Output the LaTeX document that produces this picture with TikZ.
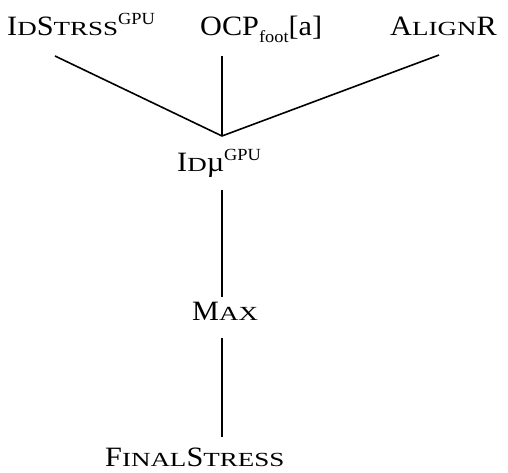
\documentclass[tikz,border=0pt]{standalone}
\usepackage{fontspec}
\setmainfont{Liberation Serif}[FakeStretch=1.08]
\newfontfamily\scfam{Liberation Serif}[FakeStretch=1.35]
\newcommand{\smc}[1]{{\scfam\fontsize{20}{22}\selectfont #1}}
\newcommand{\supx}[1]{\raisebox{11pt}{\fontsize{17}{19}\selectfont #1}}
\newcommand{\subx}[1]{\raisebox{-7pt}{\fontsize{17}{19}\selectfont #1}}
\begin{document}
\begin{tikzpicture}[x=1pt,y=-1pt,
  lbl/.style={inner sep=0pt, anchor=base west, font=\fontsize{28}{32}\selectfont},
  edge/.style={line width=1.6pt}]
\useasboundingbox (0,0) rectangle (508,472);
\node[lbl] (ids) at (7,35) {I\smc{D}S\smc{TRSS}\supx{GPU}};
\node[lbl] (ocp) at (200,35) {OCP\subx{foot}[a]};
\node[lbl] (aln) at (390,35) {A\smc{LIGN}R};
\node[lbl] (idm) at (177,171) {I\smc{D}µ\supx{GPU}};
\node[lbl] (max) at (192,320) {M\smc{AX}};
\node[lbl] (fin) at (105,466) {F\smc{INAL}S\smc{TRESS}};
\coordinate (hub) at (222,136);
\coordinate (t1) at (55,56);
\coordinate (t2) at (222,56);
\coordinate (t3) at (439,55);
\coordinate (m1) at (222,190);
\coordinate (m2) at (222,297);
\coordinate (f1) at (222,338);
\coordinate (f2) at (222,437);
\draw[edge] (t1) -- (hub);
\draw[edge] (t2) -- (hub);
\draw[edge] (t3) -- (hub);
\draw[edge] (m1) -- (m2);
\draw[edge] (f1) -- (f2);
\end{tikzpicture}
\end{document}
